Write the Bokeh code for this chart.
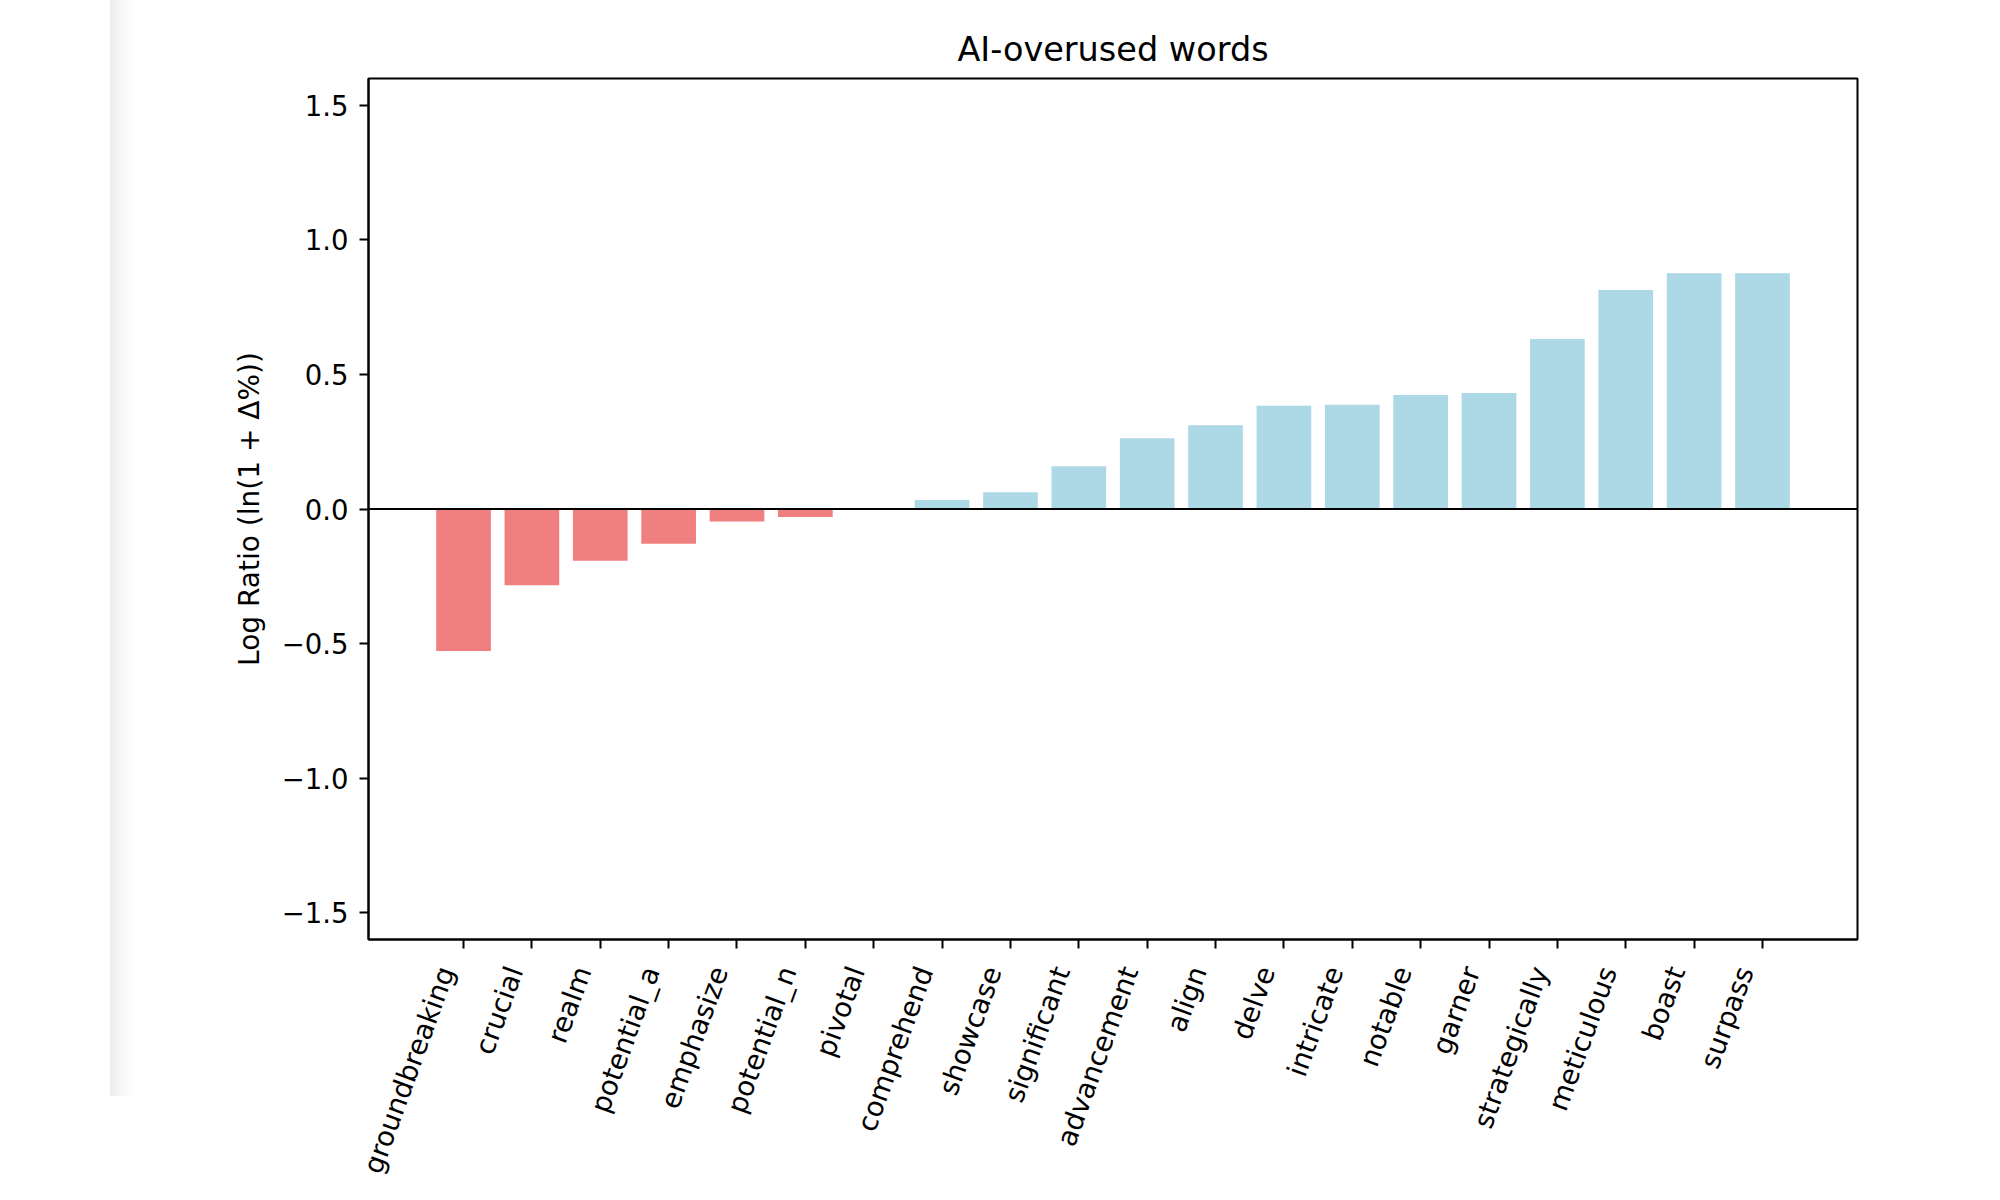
import math
from bokeh.plotting import figure
from bokeh.models import (FixedTicker, CustomJSTickFormatter, Span, Range1d,
                          ColumnDataSource, LinearAxis)
from bokeh.embed import file_html
from bokeh.resources import INLINE

# ---- data ----
words = ["groundbreaking", "crucial", "realm", "potential_a", "emphasize",
         "potential_n", "pivotal", "comprehend", "showcase", "significant",
         "advancement", "align", "delve", "intricate", "notable", "garner",
         "strategically", "meticulous", "boast", "surpass"]
log_ratio = [-0.528, -0.283, -0.192, -0.129, -0.046, -0.030, 0.0, 0.033,
             0.062, 0.159, 0.263, 0.311, 0.384, 0.387, 0.424, 0.431, 0.632,
             0.814, 0.876, 0.876]
y_ticks = [-1.5, -1.0, -0.5, 0.0, 0.5, 1.0, 1.5]
title_text = "AI-overused words"
y_label = "Log Ratio (ln(1 + Δ%))"

FONT = "DejaVu Sans"
TICK_FS = "27.5px"
n = len(words)
pos = list(range(n))
colors = ["lightcoral" if v < 0 else "lightblue" for v in log_ratio]
src = ColumnDataSource(dict(x=pos, top=log_ratio, word=words, color=colors))

bar_w = 0.8
span = (n - 1) + bar_w
pad = 0.05 * span
x0, x1 = -bar_w / 2 - pad, n - 1 + bar_w / 2 + pad
label_shift = 0.26  # rotated labels end slightly left of their tick (matplotlib ha="right")

p = figure(output_backend="svg", toolbar_location=None,
           frame_width=1489, frame_height=861,
           x_range=Range1d(x0, x1),
           y_range=Range1d(-1.6, 1.6),
           min_border_left=368, min_border_top=78,
           min_border_right=135, min_border_bottom=249,
           title=title_text)
p.extra_x_ranges = {"lbl": Range1d(x0 + label_shift, x1 + label_shift)}

p.border_fill_color = None
p.background_fill_color = "white"
p.stylesheets = [":host { background: linear-gradient(to right, #ffffff 0px, #ffffff 109px, #ececec 111px, #f6f6f6 120px, #ffffff 135px, #ffffff 100%) no-repeat; background-size: 100% 1096px; }"]

p.title.text_font = FONT
p.title.text_font_size = "33.5px"
p.title.text_font_style = "normal"
p.title.text_color = "black"
p.title.align = "center"
p.title.standoff = 19

p.xgrid.visible = False
p.ygrid.visible = False
p.outline_line_color = "black"
p.outline_line_width = 2
p.outline_line_alpha = 1

p.vbar(x="x", top="top", bottom=0, width=bar_w, fill_color="color",
       line_color=None, source=src)
p.add_layout(Span(location=0, dimension="width", line_color="black",
                  line_width=2))

for ax in (p.xaxis[0], p.yaxis[0]):
    ax.axis_line_color = "black"
    ax.axis_line_width = 2
    ax.major_tick_line_color = "black"
    ax.major_tick_line_width = 2
    ax.major_tick_out = 9
    ax.major_tick_in = 0
    ax.minor_tick_line_color = None
    ax.major_label_text_font = FONT
    ax.major_label_text_font_size = TICK_FS
    ax.major_label_text_color = "black"

# main x axis: line and tick marks only (its labels are not drawn)
xa = p.xaxis[0]
xa.ticker = FixedTicker(ticks=pos)
xa.major_label_text_font_size = "0px"
xa.major_label_text_color = None
xa.major_label_standoff = 0

# label axis: the word labels, rotated 70 degrees
xl = LinearAxis(x_range_name="lbl")
xl.ticker = FixedTicker(ticks=pos)
xl.major_label_overrides = {i: w for i, w in zip(pos, words)}
xl.major_label_orientation = math.radians(70)
xl.major_label_standoff = 19
xl.axis_line_color = None
xl.major_tick_line_color = None
xl.minor_tick_line_color = None
xl.major_tick_out = 0
xl.major_tick_in = 0
xl.major_label_text_font = FONT
xl.major_label_text_font_size = TICK_FS
xl.major_label_text_color = "black"
p.add_layout(xl, "below")

ya = p.yaxis[0]
ya.ticker = FixedTicker(ticks=y_ticks)
ya.formatter = CustomJSTickFormatter(
    code="return (tick < 0 ? '\u2212' : '') + Math.abs(tick).toFixed(1);")
ya.major_label_standoff = 11
ya.axis_label = y_label
ya.axis_label_text_font = FONT
ya.axis_label_text_font_size = "28px"
ya.axis_label_text_font_style = "normal"
ya.axis_label_text_color = "black"
ya.axis_label_standoff = 13

open("out.html", "w").write(file_html(p, INLINE))
